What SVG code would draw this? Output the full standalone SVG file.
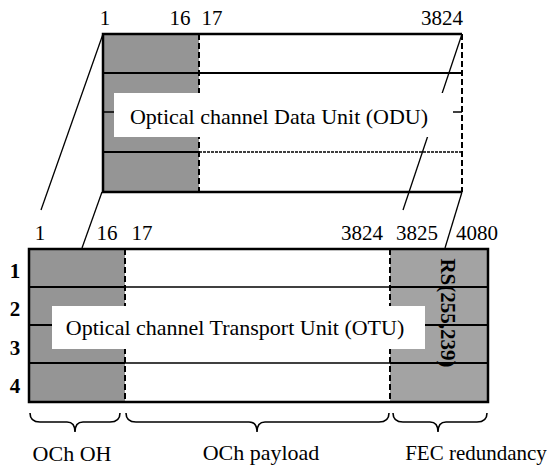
<svg xmlns="http://www.w3.org/2000/svg" width="547" height="468" viewBox="0 0 547 468">
<defs>
<style>
text{font-family:"Liberation Serif","Times New Roman","DejaVu Serif",serif;font-size:21px;fill:#000}
.mid{text-anchor:middle}
.end{text-anchor:end}
.big{font-size:22px}
.gray{fill:#959595}
.gray2{fill:#a3a3a3}
.border{fill:none;stroke:#000;stroke-width:2.5}
.row{stroke:#000;stroke-width:1.4}
.rowt{stroke:#000;stroke-width:2}
.dash{stroke:#000;stroke-width:2;stroke-dasharray:6 3;fill:none}
.lbl{fill:#fff}
.conn{stroke:#000;stroke-width:1.3;fill:none}
.brace{stroke:#000;stroke-width:1.6;fill:none}
.bold{font-weight:bold}
</style>
</defs>
<rect width="547" height="468" fill="#fff"/>

<g id="connectors">
<line class="conn" x1="103" y1="34" x2="41" y2="210"/>
<line class="conn" x1="102" y1="192" x2="82" y2="248"/>
<line class="conn" x1="462" y1="34" x2="403" y2="210"/>
<line class="conn" x1="462" y1="192" x2="445" y2="248"/>
</g>

<g id="odu">
<rect class="gray" x="103" y="34" width="96" height="158"/>
<line class="rowt" x1="103" y1="73" x2="462" y2="73"/>
<line class="row" x1="103" y1="112" x2="462" y2="112"/>
<line class="rowt" x1="103" y1="152" x2="199" y2="152"/>
<line class="row" x1="199" y1="152" x2="462" y2="152" stroke-dasharray="3 1"/>
<polyline class="border" points="462,34 103,34 103,192 462,192"/>
<line class="dash" x1="462" y1="34" x2="462" y2="192"/>
<line class="dash" x1="199" y1="34" x2="199" y2="192"/>
<rect class="lbl" x="114" y="93" width="339" height="44"/>
<text x="279" y="124" class="mid big">Optical channel Data Unit (ODU)</text>
<text x="105" y="25" class="mid">1</text>
<text x="180" y="25" class="mid">16</text>
<text x="212" y="25" class="mid">17</text>
<text x="463" y="25" class="end">3824</text>
</g>

<g id="otu">
<rect class="gray" x="29" y="249" width="96" height="153"/>
<rect class="gray2" x="390" y="249" width="98" height="153"/>
<line class="row" x1="29" y1="287" x2="488" y2="287"/>
<line class="rowt" x1="29" y1="325" x2="488" y2="325"/>
<line class="row" x1="29" y1="363" x2="488" y2="363"/>
<line class="rowt" x1="29" y1="287" x2="125" y2="287"/>
<line class="rowt" x1="29" y1="363" x2="125" y2="363"/>
<line class="rowt" x1="390" y1="287" x2="488" y2="287"/>
<line class="rowt" x1="390" y1="363" x2="488" y2="363"/>
<rect class="border" x="29" y="249" width="459" height="153"/>
<line class="dash" x1="125" y1="249" x2="125" y2="402"/>
<line class="dash" x1="390" y1="249" x2="390" y2="402"/>
<rect class="lbl" x="52" y="306" width="373" height="43"/>
<text x="235" y="335" class="mid big">Optical channel Transport Unit (OTU)</text>
<text x="448" y="313" class="mid bold" font-size="20" transform="rotate(90 448 313)" dy="7">RS(255,239)</text>
<text x="40" y="240" class="mid">1</text>
<text x="107" y="240" class="mid">16</text>
<text x="142" y="240" class="mid">17</text>
<text x="362" y="240" class="mid">3824</text>
<text x="417" y="240" class="mid">3825</text>
<text x="477" y="240" class="mid">4080</text>
<text x="15" y="278" class="mid bold">1</text>
<text x="15" y="316" class="mid bold">2</text>
<text x="15" y="355" class="mid bold">3</text>
<text x="15" y="393" class="mid bold">4</text>
</g>

<g id="och-oh">
<path class="brace" d="M30 413 Q30 422 40 422 L67 422 Q75 422 75 432 Q75 422 83 422 L110 422 Q120 422 120 413"/>
<text x="72" y="461" class="mid big">OCh OH</text>
</g>
<g id="och-payload">
<path class="brace" d="M126 413 Q126 422 136 422 L249 422 Q257 422 257 432 Q257 422 265 422 L379 422 Q389 422 389 413"/>
<text x="261" y="460" class="mid big">OCh payload</text>
</g>
<g id="fec">
<path class="brace" d="M393 413 Q393 422 403 422 L430 422 Q438 422 438 432 Q438 422 446 422 L477 422 Q487 422 487 413"/>
<text x="476" y="460" class="mid" font-size="18.5">FEC redundancy</text>
</g>
</svg>
